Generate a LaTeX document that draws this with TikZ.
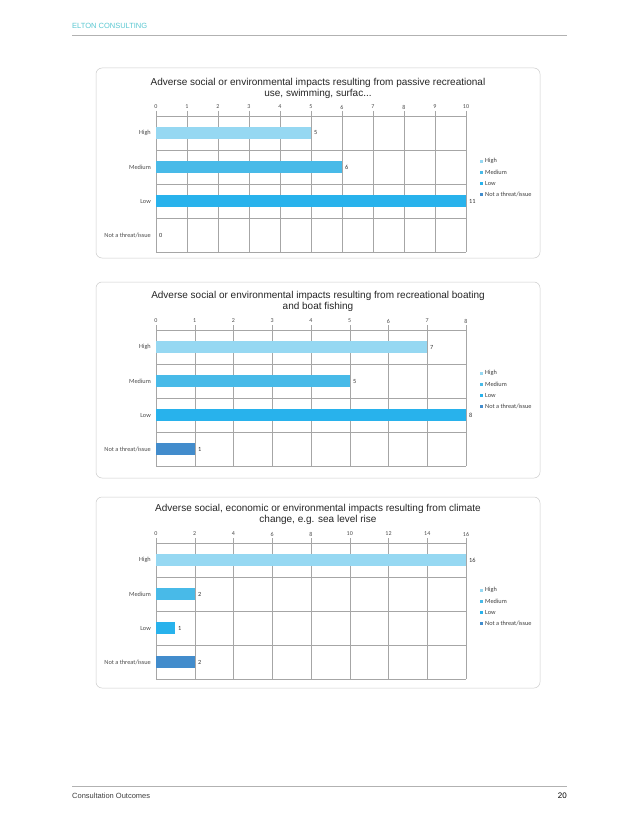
\documentclass[tikz,border=0pt]{standalone}
\usepackage{fontspec}
\setmainfont{Liberation Sans}
\newfontfamily\lblfont[Numbers=Lining]{Carlito}
\usetikzlibrary{positioning}

\definecolor{hiblue}{RGB}{150,216,242}
\definecolor{medblue}{RGB}{72,186,232}
\definecolor{lowblue}{RGB}{40,178,236}
\definecolor{notblue}{RGB}{66,140,204}
\definecolor{elton}{RGB}{90,200,210}

\tikzset{
  card/.style={draw=black!20,rounded corners=6pt,line width=0.5pt},
  gridline/.style={draw=black!35,line width=0.4pt},
  tick/.style={font=\lblfont\fontsize{6}{6}\selectfont,text=black!70,inner sep=1pt},
  cat/.style={font=\lblfont\fontsize{6.3}{6.3}\selectfont,text=black!70,anchor=east,inner sep=1pt},
  val/.style={font=\lblfont\fontsize{6.3}{6.3}\selectfont,text=black!80,anchor=west,inner sep=1pt},
  ctitle/.style={font=\fontsize{10}{11}\selectfont,align=center,text=black!85},
  leg/.style={font=\lblfont\fontsize{6.3}{6.3}\selectfont,text=black!75,anchor=west,inner sep=1pt},
  bar/.style={draw=none}
}

% grid of one chart: #1 top of plot, #2 columns, #3 column width, #4 value per column
\newcommand\plotgrid[4]{
  \foreach \i in {0,...,#2}{
    \pgfmathsetmacro\xx{156+\i*#3}
    \pgfmathtruncatemacro\vv{\i*#4}
    \draw[gridline] (\xx,#1-5) -- (\xx,#1+136);
    \node[tick] (tk\i) at (\xx,#1-9) {\vv};
  }
  \foreach \j in {0,...,4}
    \draw[gridline] (156,#1+\j*34) -- (156+#2*#3,#1+\j*34);
  \node[cat] (cH) at (152,#1+17) {High};
  \node[cat] (cM) at (152,#1+51) {Medium};
  \node[cat] (cL) at (152,#1+85) {Low};
  \node[cat] (cN) at (152,#1+119) {Not a threat/issue};
}
% legend: #1 y of first entry
\newcommand\plotlegend[1]{
  \fill[hiblue]  (480,#1-1.5) rectangle ++(3,3);
  \node[leg] (lH) at (484,#1) {High};
  \fill[medblue] (480,#1+9.5) rectangle ++(3,3);
  \node[leg] (lM) at (484,#1+11) {Medium};
  \fill[lowblue] (480,#1+20.5) rectangle ++(3,3);
  \node[leg] (lL) at (484,#1+22) {Low};
  \fill[notblue] (480,#1+31.5) rectangle ++(3,3);
  \node[leg] (lN) at (484,#1+33) {Not a threat/issue};
}

\begin{document}
\begin{tikzpicture}[x=1pt,y=-1pt]
  \useasboundingbox[fill=white] (0,0) rectangle (637,824);

  % page header and footer
  \node[anchor=west,inner sep=0,text=elton,font=\fontsize{7.5}{8}\selectfont] (head) at (72,26) {ELTON CONSULTING};
  \draw[black!30,line width=0.4pt] (72,35) -- (567,35);
  \draw[black!30,line width=0.4pt] (72,786) -- (567,786);
  \node[anchor=west,inner sep=0,font=\fontsize{7.5}{8}\selectfont,text=black!75] (foot) at (72,796) {Consultation Outcomes};
  \node[anchor=east,inner sep=0,font=\fontsize{8}{8}\selectfont] (page) at (567,796) {20};

  % chart 1
  \draw[card] (96,68) rectangle (540,258);
  \node[ctitle] (t1) at (318,88) {Adverse social or environmental impacts resulting from passive recreational\\use, swimming, surfac...};
  \plotgrid{116}{10}{31}{1}
  \fill[hiblue]  (156,127) rectangle (311,139);
  \node[val] (v1a) at (313,133) {5};
  \fill[medblue] (156,161) rectangle (342,173);
  \node[val] (v1b) at (344,167) {6};
  \fill[lowblue] (156,195) rectangle (466,207);
  \node[val] (v1c) at (468,201) {11};
  \node[val] (v1d) at (158,235) {0};
  \plotlegend{161}

  % chart 2
  \draw[card] (96,282) rectangle (540,478);
  \node[ctitle] (t2) at (318,301) {Adverse social or environmental impacts resulting from recreational boating\\and boat fishing};
  \plotgrid{330}{8}{38.75}{1}
  \fill[hiblue]  (156,341) rectangle (427,353);
  \node[val] (v2a) at (429,347) {7};
  \fill[medblue] (156,375) rectangle (350,387);
  \node[val] (v2b) at (352,381) {5};
  \fill[lowblue] (156,409) rectangle (466,421);
  \node[val] (v2c) at (468,415) {8};
  \fill[notblue] (156,443) rectangle (195,455);
  \node[val] (v2d) at (197,449) {1};
  \plotlegend{373}

  % chart 3
  \draw[card] (96,497) rectangle (540,688);
  \node[ctitle] (t3) at (318,514) {Adverse social, economic or environmental impacts resulting from climate\\change, e.g. sea level rise};
  \plotgrid{543}{8}{38.75}{2}
  \fill[hiblue]  (156,554) rectangle (466,566);
  \node[val] (v3a) at (468,560) {16};
  \fill[medblue] (156,588) rectangle (195,600);
  \node[val] (v3b) at (197,594) {2};
  \fill[lowblue] (156,622) rectangle (175,634);
  \node[val] (v3c) at (177,628) {1};
  \fill[notblue] (156,656) rectangle (195,668);
  \node[val] (v3d) at (197,662) {2};
  \plotlegend{590}
\end{tikzpicture}
\end{document}
